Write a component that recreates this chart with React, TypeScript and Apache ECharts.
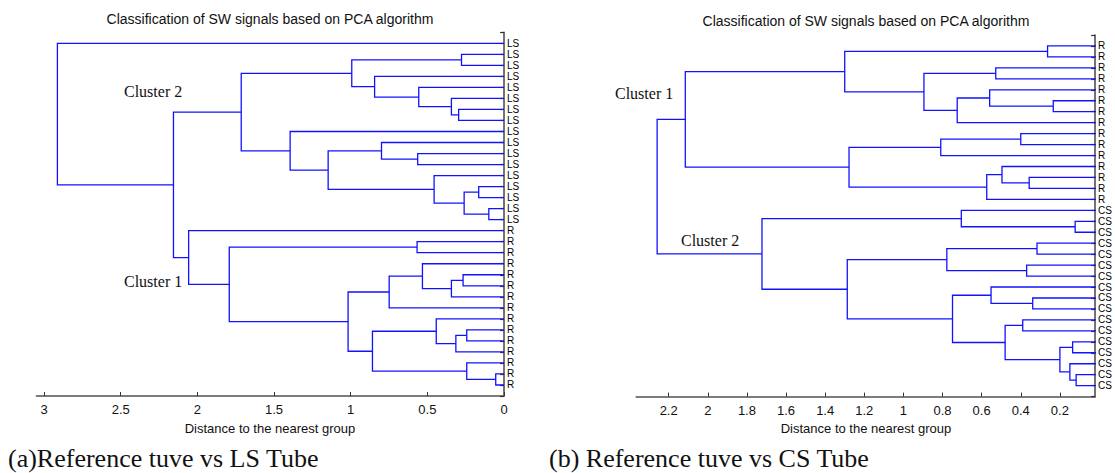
import React, { useEffect, useRef } from 'react';
import * as echarts from 'echarts';

// ---------- data ----------
const leafLabelsA = [
  'LS', 'LS', 'LS', 'LS', 'LS', 'LS', 'LS', 'LS', 'LS', 'LS', 'LS', 'LS', 'LS', 'LS', 'LS', 'LS', 'LS',
  'R', 'R', 'R', 'R', 'R', 'R', 'R', 'R', 'R', 'R', 'R', 'R', 'R', 'R', 'R',
];
const leafLabelsB = [
  'R', 'R', 'R', 'R', 'R', 'R', 'R', 'R', 'R', 'R', 'R', 'R', 'R', 'R', 'R',
  'CS', 'CS', 'CS', 'CS', 'CS', 'CS', 'CS', 'CS', 'CS', 'CS', 'CS', 'CS', 'CS', 'CS', 'CS', 'CS', 'CS',
];

// merges: [childA, childB, height]; ids 1..32 are leaves (top to bottom), 33.. are merges in order
const mergesA: [number, number, number][] = [
  [2, 3, 0.277], [7, 8, 0.296], [6, 34, 0.343], [5, 35, 0.556], [4, 36, 0.844],
  [33, 37, 0.993], [11, 12, 0.563], [10, 39, 0.799], [14, 15, 0.165], [16, 17, 0.099],
  [41, 42, 0.26], [13, 43, 0.456], [40, 44, 1.147], [9, 45, 1.395], [38, 46, 1.714],
  [19, 20, 0.567], [22, 23, 0.267], [49, 24, 0.343], [21, 50, 0.532], [51, 25, 0.749],
  [27, 28, 0.243], [53, 29, 0.314], [26, 54, 0.442], [31, 32, 0.054], [30, 56, 0.243],
  [55, 57, 0.858], [52, 58, 1.017], [48, 59, 1.792], [18, 60, 2.057], [47, 61, 2.156],
  [1, 62, 2.913],
];
const mergesB: [number, number, number][] = [
  [1, 2, 0.263], [3, 4, 0.528], [6, 7, 0.234], [5, 35, 0.559], [36, 8, 0.725],
  [34, 37, 0.895], [33, 38, 1.3], [9, 10, 0.4], [40, 11, 0.809], [13, 14, 0.357],
  [12, 42, 0.496], [43, 15, 0.574], [41, 44, 1.278], [39, 45, 2.115], [17, 18, 0.122],
  [16, 47, 0.704], [19, 20, 0.317], [21, 22, 0.37], [49, 50, 0.778], [24, 25, 0.339],
  [23, 52, 0.552], [26, 27, 0.39], [28, 29, 0.135], [31, 32, 0.117], [30, 56, 0.149],
  [55, 57, 0.2], [54, 58, 0.48], [53, 59, 0.749], [51, 60, 1.287], [48, 61, 1.723],
  [46, 62, 2.259],
];

const xRangeA = [0, 3.05];
const xRangeB = [0.02, 2.366];
const xIntervalA = 0.5;

const titleText = 'Classification of SW signals based on PCA algorithm';
const xAxisName = 'Distance to the nearest group';
const captionA = '(a)Reference tuve vs LS Tube';
const captionB = '(b) Reference tuve vs CS Tube';
const clusterLabelsA = ['Cluster 2', 'Cluster 1'];
const clusterLabelsB = ['Cluster 1', 'Cluster 2'];

// ---------- helpers ----------
function buildSegments(merges: [number, number, number][], n: number) {
  const y: number[] = [];
  const h: number[] = [];
  for (let i = 1; i <= n; i++) {
    y[i] = i;
    h[i] = 0;
  }
  return merges.map(([a, b, hh], k) => {
    const id = n + 1 + k;
    y[id] = (y[a] + y[b]) / 2;
    h[id] = hh;
    return [h[a], y[a], hh, y[b], h[b]];
  });
}

const BLUE = '#1212ff';
const AXIS = '#505050';
const SANS = '"Liberation Sans", Arial, sans-serif';
const SERIF = '"Liberation Serif", "Times New Roman", serif';

function renderU(params: any, api: any) {
  const p0 = api.coord([api.value(0), api.value(1)]);
  const p1 = api.coord([api.value(2), api.value(1)]);
  const p2 = api.coord([api.value(2), api.value(3)]);
  const p3 = api.coord([api.value(4), api.value(3)]);
  return {
    type: 'polyline',
    shape: { points: [p0, p1, p2, p3] },
    style: { stroke: BLUE, lineWidth: 1.3, fill: null },
  };
}

function txt(text: string, x: number, y: number, font: string, align = 'left') {
  return {
    type: 'text',
    x,
    y,
    style: {
      text,
      font,
      fill: '#111',
      align,
      textAlign: align,
      verticalAlign: 'middle',
      textVerticalAlign: 'middle',
    },
  };
}

export default function App() {
  const ref = useRef<HTMLDivElement>(null);
  useEffect(() => {
    document.body.style.margin = '0';
    if (!ref.current) return;
    const chart = echarts.init(ref.current, null, { renderer: 'svg' });
    const segA = buildSegments(mergesA, leafLabelsA.length);
    const segB = buildSegments(mergesB, leafLabelsB.length);

    const xAxisCommon = {
      type: 'value',
      inverse: true,
      position: 'bottom',
      axisLine: { show: true, onZero: false, lineStyle: { color: AXIS, width: 1.6 } },
      axisTick: { show: true, inside: true, length: 4, lineStyle: { color: '#333', width: 1 } },
      axisLabel: { color: '#111', fontSize: 13, fontFamily: SANS, margin: 7, showMaxLabel: false, showMinLabel: true },
      splitLine: { show: false },
    };
    const yAxisCommon = {
      type: 'value',
      inverse: true,
      min: 0,
      max: 33,
      interval: 1,
      position: 'right',
      axisLine: { show: true, onZero: false, lineStyle: { color: AXIS, width: 1.6 } },
      axisTick: { show: true, inside: true, length: 4, lineStyle: { color: '#333', width: 1.2 } },
      splitLine: { show: false },
    };
    const leafLabel = { color: '#000', fontSize: 10, lineHeight: 10, fontFamily: SANS, margin: 3 };

    const option: any = {
      animation: false,
      grid: [
        { left: 36.4, top: 32.3, width: 467.6, height: 363.7 },
        { left: 636.2, top: 35, width: 459.8, height: 361.6 },
      ],
      xAxis: [
        { ...xAxisCommon, gridIndex: 0, min: xRangeA[0], max: xRangeA[1], interval: xIntervalA },
        {
          ...xAxisCommon,
          gridIndex: 1,
          min: xRangeB[0],
          max: xRangeB[1],
          splitNumber: 12,
          axisLabel: { ...xAxisCommon.axisLabel, showMinLabel: false, showMaxLabel: false },
        },
      ],
      yAxis: [
        {
          ...yAxisCommon,
          gridIndex: 0,
          axisLabel: { ...leafLabel, formatter: (v: number) => leafLabelsA[v - 1] ?? '' },
        },
        {
          ...yAxisCommon,
          gridIndex: 1,
          axisLabel: { ...leafLabel, formatter: (v: number) => leafLabelsB[v - 1] ?? '' },
        },
      ],
      series: [
        {
          type: 'custom',
          xAxisIndex: 0,
          yAxisIndex: 0,
          clip: true,
          renderItem: renderU,
          encode: { x: [0, 2, 4], y: [1, 3] },
          data: segA,
        },
        {
          type: 'custom',
          xAxisIndex: 1,
          yAxisIndex: 1,
          clip: true,
          renderItem: renderU,
          encode: { x: [0, 2, 4], y: [1, 3] },
          data: segB,
        },
      ],
      graphic: [
        txt(titleText, 270, 18.5, `14px ${SANS}`, 'center'),
        txt(titleText, 866, 20.5, `14px ${SANS}`, 'center'),
        txt(xAxisName, 270, 428, `13px ${SANS}`, 'center'),
        txt(xAxisName, 866, 428, `13px ${SANS}`, 'center'),
        txt(clusterLabelsA[0], 124, 91, `16px ${SERIF}`),
        txt(clusterLabelsA[1], 124, 281, `16px ${SERIF}`),
        txt(clusterLabelsB[0], 615, 93, `16px ${SERIF}`),
        txt(clusterLabelsB[1], 681, 240, `16px ${SERIF}`),
        txt(captionA, 8, 458, `26px ${SERIF}`),
        txt(captionB, 549, 458, `26px ${SERIF}`),
      ],
    };
    chart.setOption(option);
    return () => chart.dispose();
  }, []);
  return <div ref={ref} style={{ width: 1115, height: 473 }} />;
}
